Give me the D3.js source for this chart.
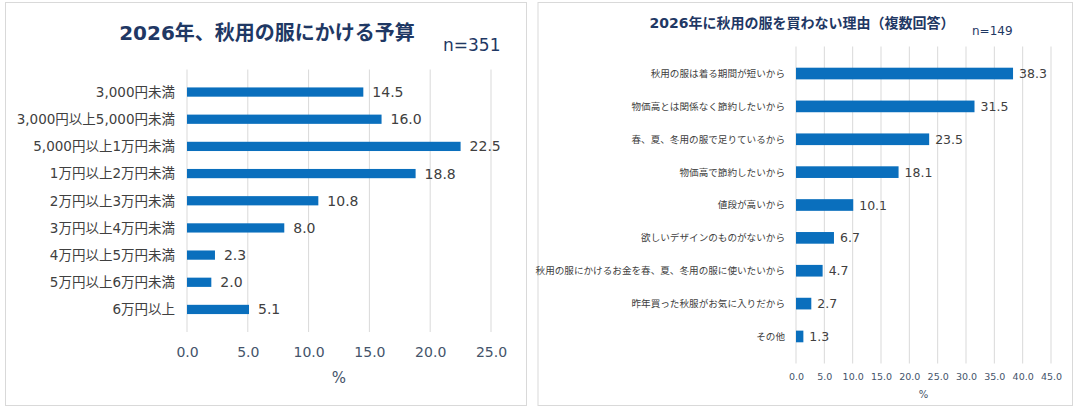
<!DOCTYPE html>
<html>
<head>
<meta charset="utf-8">
<script src="https://cdn.jsdelivr.net/npm/d3@7"></script>
<style>
  body { margin: 0; background: #fff; }
  svg { display: block; }
  text { font-family: "DejaVu Sans", "Noto Sans CJK JP", sans-serif; }
</style>
</head>
<body>
<svg id="chart" width="1077" height="409"></svg>
<script>
// left chart: budget for autumn clothes
const budgetCategories = ['3,000円未満', '3,000円以上5,000円未満', '5,000円以上1万円未満', '1万円以上2万円未満',
  '2万円以上3万円未満', '3万円以上4万円未満', '4万円以上5万円未満', '5万円以上6万円未満', '6万円以上'];
const budgetValues = [14.5, 16.0, 22.5, 18.8, 10.8, 8.0, 2.3, 2.0, 5.1];
const budgetTicks = [0, 5, 10, 15, 20, 25];

// right chart: reasons for not buying (multiple answers)
const reasonCategories = ['秋用の服は着る期間が短いから', '物価高とは関係なく節約したいから', '春、夏、冬用の服で足りているから',
  '物価高で節約したいから', '値段が高いから', '欲しいデザインのものがないから',
  '秋用の服にかけるお金を春、夏、冬用の服に使いたいから', '昨年買った秋服がお気に入りだから', 'その他'];
const reasonValues = [38.3, 31.5, 23.5, 18.1, 10.1, 6.7, 4.7, 2.7, 1.3];
const reasonTicks = [0, 5, 10, 15, 20, 25, 30, 35, 40, 45];

const svg = d3.select('#chart');
const barColor = '#0a6fbd';
const gridColor = '#d9d9d9';
const navy = '#1f3864';
const labelColor = '#404040';

function drawPanel(opts) {
    const g = svg.append('g');

    g.append('rect')
        .attr('x', opts.box[0]).attr('y', opts.box[1])
        .attr('width', opts.box[2]).attr('height', opts.box[3])
        .attr('fill', '#fff').attr('stroke', gridColor).attr('stroke-width', 1);

    const x = d3.scaleLinear().domain([0, d3.max(opts.ticks)]).range(opts.xRange);
    const y = d3.scaleBand().domain(opts.categories).range(opts.yRange).padding(opts.pad);

    // gridlines
    g.selectAll('line.grid')
        .data(opts.ticks)
        .enter()
        .append('line')
        .attr('class', 'grid')
        .attr('x1', d => x(d)).attr('x2', d => x(d))
        .attr('y1', opts.yRange[0]).attr('y2', opts.yRange[1])
        .attr('stroke', gridColor).attr('stroke-width', 1);

    // bars
    g.selectAll('rect.bar')
        .data(opts.values)
        .enter()
        .append('rect')
        .attr('class', 'bar')
        .attr('x', x(0))
        .attr('y', (d, i) => y(opts.categories[i]))
        .attr('width', d => x(d) - x(0))
        .attr('height', y.bandwidth())
        .attr('fill', barColor);

    // value labels
    g.selectAll('text.val')
        .data(opts.values)
        .enter()
        .append('text')
        .attr('class', 'val')
        .attr('x', d => x(d) + opts.valOffset)
        .attr('y', (d, i) => y(opts.categories[i]) + y.bandwidth() / 2)
        .attr('dy', '0.36em')
        .attr('font-size', opts.valSize)
        .attr('fill', labelColor)
        .text(d => d.toFixed(1));

    // category labels
    g.selectAll('text.cat')
        .data(opts.categories)
        .enter()
        .append('text')
        .attr('class', 'cat')
        .attr('x', opts.catX)
        .attr('y', d => y(d) + y.bandwidth() / 2)
        .attr('dy', '0.36em')
        .attr('text-anchor', 'end')
        .attr('font-size', opts.catSize)
        .attr('fill', labelColor)
        .text(d => d);

    // x axis tick labels
    const axis = g.append('g')
        .attr('transform', `translate(0,${opts.tickY})`)
        .call(d3.axisBottom(x).tickValues(opts.ticks).tickSize(0).tickPadding(0).tickFormat(d3.format('.1f')));
    axis.select('.domain').remove();
    axis.selectAll('text')
        .attr('font-family', '"DejaVu Sans", "Noto Sans CJK JP", sans-serif')
        .attr('font-size', opts.tickSize)
        .attr('fill', '#44546a')
        .attr('dy', '0.36em');

    g.append('text')
        .attr('x', (opts.xRange[0] + opts.xRange[1]) / 2)
        .attr('y', opts.pctY)
        .attr('dy', '0.36em')
        .attr('text-anchor', 'middle')
        .attr('font-size', opts.pctSize)
        .attr('fill', '#44546a')
        .text('%');

    // title and sample size
    g.append('text')
        .attr('x', opts.titleX).attr('y', opts.titleY)
        .attr('dy', '0.36em')
        .attr('text-anchor', 'middle')
        .attr('font-family', '"Noto Sans CJK JP", sans-serif')
        .attr('font-weight', 'bold')
        .attr('font-size', opts.titleSize)
        .attr('fill', navy)
        .text(opts.title);

    g.append('text')
        .attr('x', opts.nX).attr('y', opts.nY)
        .attr('dy', '0.36em')
        .attr('font-size', opts.nSize)
        .attr('fill', navy)
        .text(opts.n);
}

drawPanel({
    box: [5.5, 2.5, 521, 403],
    categories: budgetCategories, values: budgetValues, ticks: budgetTicks,
    xRange: [187, 491], yRange: [69.5, 332], pad: 0.66,
    valOffset: 9, valSize: 14, catX: 175, catSize: 13.5,
    tickY: 352, tickSize: 14, pctY: 378, pctSize: 15,
    title: '2026年、秋用の服にかける予算', titleX: 267, titleY: 33, titleSize: 20,
    n: 'n=351', nX: 443, nY: 45, nSize: 17
});

drawPanel({
    box: [538, 2.5, 534.5, 403],
    categories: reasonCategories, values: reasonValues, ticks: reasonTicks,
    xRange: [796, 1051], yRange: [46.5, 363.5], pad: 0.645,
    valOffset: 6, valSize: 12.5, catX: 785, catSize: 9.6,
    tickY: 377, tickSize: 9.5, pctY: 394, pctSize: 10,
    title: '2026年に秋用の服を買わない理由（複数回答）', titleX: 802, titleY: 23, titleSize: 14,
    n: 'n=149', nX: 972, nY: 31, nSize: 12
});
</script>
</body>
</html>
